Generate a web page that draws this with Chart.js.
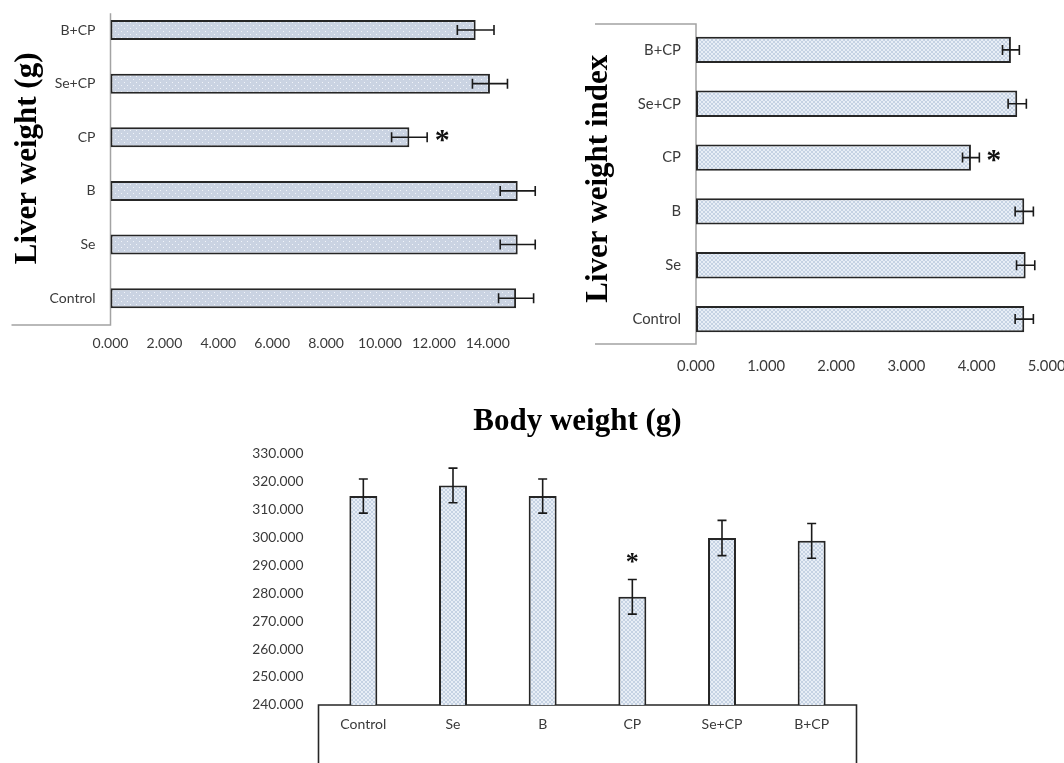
<!DOCTYPE html>
<html>
<head>
<meta charset="utf-8">
<script src="https://cdn.jsdelivr.net/npm/chart.js@4.4.1/dist/chart.umd.min.js"></script>
<style>
  html, body { margin: 0; padding: 0; background: #fff; }
  body { width: 1064px; height: 763px; position: relative; overflow: hidden; }
  canvas { position: absolute; }
  #liverWeightChart { left: 0; top: 0; }
  #liverIndexChart { left: 560px; top: 0; }
  #bodyWeightChart { left: 200px; top: 380px; }
</style>
</head>
<body>
<canvas id="liverWeightChart" width="560" height="380"></canvas>
<canvas id="liverIndexChart" width="504" height="380"></canvas>
<canvas id="bodyWeightChart" width="864" height="383"></canvas>
<script>
// Treatment groups
const groups = ['Control', 'Se', 'B', 'CP', 'Se+CP', 'B+CP'];

// Liver weight (g), mean and error
const liverWeight    = [15.05, 15.11, 15.11, 11.09, 14.08, 13.55];
const liverWeightErr = [0.65, 0.65, 0.65, 0.66, 0.65, 0.68];
const liverWeightTicks = [0, 2, 4, 6, 8, 10, 12, 14];

// Liver weight index, mean and error
const liverIndex    = [4.68, 4.70, 4.68, 3.92, 4.58, 4.49];
const liverIndexErr = [0.13, 0.13, 0.13, 0.12, 0.13, 0.12];
const liverIndexTicks = [0, 1, 2, 3, 4, 5];

// Body weight (g), mean and error
const bodyWeight    = [314.7, 318.5, 314.7, 278.7, 299.7, 298.7];
const bodyWeightErr = [6.1, 6.2, 6.1, 6.2, 6.3, 6.2];
const bodyWeightTicks = [240, 250, 260, 270, 280, 290, 300, 310, 320, 330];

// Significance markers per group
const significance = ['', '', '', '*', '', ''];

const tickColor = '#3a3a3a';
const tickFamily = "Lato, 'Open Sans', sans-serif";
const titleFamily = "'Liberation Serif', 'Times New Roman', serif";

// Small tiled fills for the bars
function dotFill() {
  const c = document.createElement('canvas');
  c.width = 6; c.height = 6;
  const g = c.getContext('2d');
  g.fillStyle = '#cad3e2'; g.fillRect(0, 0, 6, 6);
  g.fillStyle = '#f1f4f9';
  g.fillRect(1, 1, 1, 1); g.fillRect(4, 4, 1, 1);
  return g.createPattern(c, 'repeat');
}
function hatchFill() {
  const c = document.createElement('canvas');
  c.width = 4; c.height = 4;
  const g = c.getContext('2d');
  g.fillStyle = '#e8eef6'; g.fillRect(0, 0, 4, 4);
  g.fillStyle = '#c5d2e3';
  for (let i = 0; i < 4; i++) { g.fillRect(i, i, 1, 1); g.fillRect(3 - i, i, 1, 1); }
  return g.createPattern(c, 'repeat');
}

// Error bars and significance markers drawn from each dataset's values
const errorBars = {
  id: 'errorBars',
  afterDatasetsDraw(chart, args, opts) {
    const ctx = chart.ctx;
    const horizontal = chart.options.indexAxis === 'y';
    const vScale = horizontal ? chart.scales.x : chart.scales.y;
    chart.data.datasets.forEach((ds, di) => {
      if (!ds.errors) return;
      const meta = chart.getDatasetMeta(di);
      meta.data.forEach((bar, i) => {
        const v = ds.data[i], e = ds.errors[i];
        const lo = vScale.getPixelForValue(v - e);
        const hi = vScale.getPixelForValue(v + e);
        const c = opts.cap / 2;
        ctx.save();
        ctx.strokeStyle = opts.color;
        ctx.lineWidth = opts.width;
        ctx.beginPath();
        if (horizontal) {
          const y = bar.y;
          ctx.moveTo(lo, y); ctx.lineTo(hi, y);
          ctx.moveTo(lo, y - c); ctx.lineTo(lo, y + c);
          ctx.moveTo(hi, y - c); ctx.lineTo(hi, y + c);
        } else {
          const x = bar.x;
          ctx.moveTo(x, lo); ctx.lineTo(x, hi);
          ctx.moveTo(x - c, lo); ctx.lineTo(x + c, lo);
          ctx.moveTo(x - c, hi); ctx.lineTo(x + c, hi);
        }
        ctx.stroke();
        const m = ds.marks && ds.marks[i];
        if (m) {
          ctx.fillStyle = '#111';
          ctx.font = 'bold ' + opts.markSize + 'px ' + titleFamily;
          ctx.textAlign = 'center';
          ctx.textBaseline = 'alphabetic';
          const lift = opts.markSize * 0.38;
          if (horizontal) ctx.fillText(m, hi + opts.markGap, bar.y + lift);
          else ctx.fillText(m, bar.x, hi - opts.markGap + lift);
        }
        ctx.restore();
      });
    });
  }
};

// Panel title (rotated for the side titles)
const panelTitle = {
  id: 'panelTitle',
  afterDraw(chart, args, o) {
    if (!o.text) return;
    const a = chart.chartArea, ctx = chart.ctx;
    ctx.save();
    ctx.fillStyle = '#000';
    ctx.font = 'bold ' + o.size + 'px ' + titleFamily;
    ctx.textAlign = 'center';
    ctx.textBaseline = 'alphabetic';
    if (o.side === 'left') {
      ctx.translate(a.left + o.dx, (a.top + a.bottom) / 2 + o.dy);
      ctx.rotate(-Math.PI / 2);
    } else {
      ctx.translate((a.left + a.right) / 2 + o.dx, a.top + o.dy);
    }
    ctx.fillText(o.text, 0, 0);
    ctx.restore();
  }
};

// Frame lines around the label areas
const frameLines = {
  id: 'frameLines',
  beforeDatasetsDraw(chart, args, o) {
    const a = chart.chartArea, ctx = chart.ctx;
    ctx.save();
    ctx.strokeStyle = o.color;
    ctx.lineWidth = o.width;
    ctx.beginPath();
    if (o.kind === 'corner') {
      ctx.moveTo(a.left, a.top + o.inset); ctx.lineTo(a.left, a.bottom);
      ctx.lineTo(a.left - o.reach, a.bottom);
    } else if (o.kind === 'bracket') {
      ctx.moveTo(a.left - o.reach, a.top + 1); ctx.lineTo(a.left, a.top + 1);
      ctx.lineTo(a.left, a.bottom - 2); ctx.lineTo(a.left - o.reach, a.bottom - 2);
    } else if (o.kind === 'box') {
      ctx.moveTo(a.left, chart.height); ctx.lineTo(a.left, a.bottom);
      ctx.lineTo(a.right, a.bottom); ctx.lineTo(a.right, chart.height);
    }
    ctx.stroke();
    ctx.restore();
  }
};

Chart.register(errorBars, panelTitle, frameLines);

function fixedTicks(list) {
  return s => { s.ticks = list.map(v => ({ value: v })); };
}
function tickFont(size) {
  return { family: tickFamily, size: size };
}
// Axis sizes are set directly; label overhang is not reserved
function sizeX(h) {
  return s => { s.height = h; s.paddingLeft = 0; s.paddingRight = 0; };
}
function sizeY(w) {
  return s => { s.width = w; s.paddingTop = 0; s.paddingBottom = 0; };
}
const noGrid = { display: false, drawTicks: false };

// Liver weight (g): horizontal bars
new Chart(document.getElementById('liverWeightChart'), {
  type: 'bar',
  data: {
    labels: groups,
    datasets: [{
      data: liverWeight,
      errors: liverWeightErr,
      marks: significance,
      backgroundColor: dotFill(),
      borderColor: '#262626',
      borderWidth: 2,
      borderSkipped: false,
      categoryPercentage: 1,
      barPercentage: 0.373
    }]
  },
  options: {
    indexAxis: 'y',
    responsive: false,
    animation: false,
    layout: { padding: { top: 3.2, right: 18.3, left: 0, bottom: 0 } },
    plugins: {
      legend: { display: false },
      tooltip: { enabled: false },
      errorBars: { color: '#1a1a1a', width: 1.6, cap: 10, markSize: 30, markGap: 15 },
      panelTitle: { text: 'Liver weight (g)', size: 31, side: 'left', dx: -74.5, dy: -5.7 },
      frameLines: { kind: 'corner', color: '#a3a3a3', width: 1.5, inset: 10, reach: 99 }
    },
    scales: {
      x: {
        type: 'linear', min: 0, max: 16,
        grid: noGrid, border: { display: false },
        afterBuildTicks: fixedTicks(liverWeightTicks),
        afterFit: sizeX(55),
        ticks: { padding: 10, color: tickColor, font: tickFont(14), maxRotation: 0, autoSkip: false,
                 callback: v => Number(v).toFixed(3) }
      },
      y: {
        reverse: true,
        grid: noGrid, border: { display: false },
        afterFit: sizeY(110.5),
        ticks: { padding: 15, color: tickColor, font: tickFont(14) }
      }
    }
  }
});

// Liver weight index: horizontal bars
new Chart(document.getElementById('liverIndexChart'), {
  type: 'bar',
  data: {
    labels: groups,
    datasets: [{
      data: liverIndex,
      errors: liverIndexErr,
      marks: significance,
      backgroundColor: hatchFill(),
      borderColor: '#262626',
      borderWidth: 2,
      borderSkipped: false,
      categoryPercentage: 1,
      barPercentage: 0.49
    }]
  },
  options: {
    indexAxis: 'y',
    responsive: false,
    animation: false,
    layout: { padding: { top: 23, right: 17.3, left: 0, bottom: 0 } },
    plugins: {
      legend: { display: false },
      tooltip: { enabled: false },
      errorBars: { color: '#1a1a1a', width: 1.6, cap: 10, markSize: 30, markGap: 14.5 },
      panelTitle: { text: 'Liver weight index', size: 31, side: 'left', dx: -89.3, dy: -5.8 },
      frameLines: { kind: 'bracket', color: '#a3a3a3', width: 1.5, reach: 101 }
    },
    scales: {
      x: {
        type: 'linear', min: 0, max: 5,
        grid: noGrid, border: { display: false },
        afterBuildTicks: fixedTicks(liverIndexTicks),
        afterFit: sizeX(34),
        ticks: { padding: 11, color: tickColor, font: tickFont(14.8), maxRotation: 0, autoSkip: false,
                 callback: v => Number(v).toFixed(3) }
      },
      y: {
        reverse: true,
        grid: noGrid, border: { display: false },
        afterFit: sizeY(136),
        ticks: { padding: 15, color: tickColor, font: tickFont(14.8) }
      }
    }
  }
});

// Body weight (g): vertical bars
new Chart(document.getElementById('bodyWeightChart'), {
  type: 'bar',
  data: {
    labels: groups,
    datasets: [{
      data: bodyWeight,
      errors: bodyWeightErr,
      marks: significance,
      backgroundColor: hatchFill(),
      borderColor: '#262626',
      borderWidth: 2,
      borderSkipped: false,
      categoryPercentage: 1,
      barPercentage: 0.312
    }]
  },
  options: {
    responsive: false,
    animation: false,
    layout: { padding: { top: 73.3, right: 207.5, left: 0, bottom: 0 } },
    plugins: {
      legend: { display: false },
      tooltip: { enabled: false },
      errorBars: { color: '#1a1a1a', width: 1.6, cap: 9, markSize: 26, markGap: 19 },
      panelTitle: { text: 'Body weight (g)', size: 31, side: 'top', dx: -10, dy: -23.3 },
      frameLines: { kind: 'box', color: '#262626', width: 1.6 }
    },
    scales: {
      x: {
        grid: noGrid, border: { display: false },
        afterFit: sizeX(58),
        ticks: { padding: 11.5, color: tickColor, font: tickFont(14) }
      },
      y: {
        type: 'linear', min: 240, max: 330,
        grid: noGrid, border: { display: false },
        afterBuildTicks: fixedTicks(bodyWeightTicks),
        afterFit: sizeY(118.5),
        ticks: { padding: 15, color: tickColor, font: tickFont(13.8),
                 callback: v => Number(v).toFixed(3) }
      }
    }
  }
});
</script>
</body>
</html>
